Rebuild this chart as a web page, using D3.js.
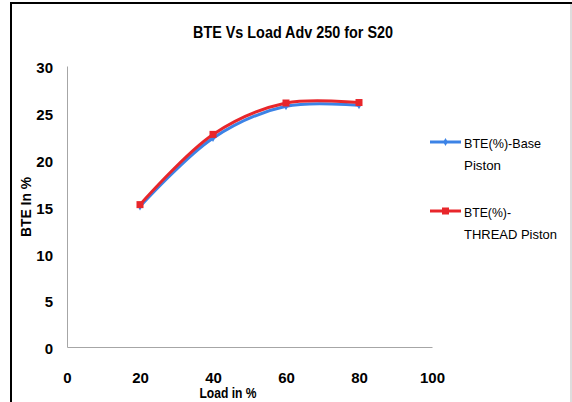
<!DOCTYPE html>
<html>
<head>
<meta charset="utf-8">
<script src="https://cdn.jsdelivr.net/npm/d3@7"></script>
<style>
  body { margin: 0; background: #fff; }
  text { font-family: "Liberation Sans", Arial, sans-serif; }
</style>
</head>
<body>
<div id="chart"></div>
<script>
// load values and BTE readings
var loads = [20, 40, 60, 80];
var baseBTE = [15.0, 22.3, 25.7, 25.8];
var threadBTE = [15.2, 22.7, 26.05, 26.1];
var xTicks = [0, 20, 40, 60, 80, 100];
var yTicks = [0, 5, 10, 15, 20, 25, 30];
var seriesNames = [["BTE(%)-Base", "Piston"], ["BTE(%)-", "THREAD Piston"]];

var width = 572, height = 402;

var svg = d3.select("#chart").append("svg")
	.attr("width", width)
	.attr("height", height);

// outer frame
svg.append("line").attr("x1", 11).attr("y1", 2).attr("x2", 11).attr("y2", height)
	.attr("stroke", "#000").attr("stroke-width", 2);
svg.append("line").attr("x1", 10).attr("y1", 3).attr("x2", 572).attr("y2", 3)
	.attr("stroke", "#000").attr("stroke-width", 2);
svg.append("line").attr("x1", 571).attr("y1", 4).attr("x2", 571).attr("y2", height)
	.attr("stroke", "#bbb").attr("stroke-width", 1);

var x = d3.scaleLinear().domain([0, 100]).range([67, 432]);
var y = d3.scaleLinear().domain([0, 30]).range([347, 66]);

// axes
var xAxis = svg.append("g")
	.attr("transform", "translate(0," + y(0) + ")")
	.call(d3.axisBottom(x).tickValues(xTicks).tickSize(0).tickPadding(25));
var yAxis = svg.append("g")
	.attr("transform", "translate(" + x(0) + ",0)")
	.call(d3.axisLeft(y).tickValues(yTicks).tickSize(0).tickPadding(14));

[xAxis, yAxis].forEach(function(a) {
	a.select(".domain").attr("stroke", "#a6a6a6").attr("stroke-width", 1);
	a.selectAll("text")
		.attr("font-family", "'Liberation Sans', sans-serif")
		.attr("font-size", 15)
		.attr("font-weight", "bold")
		.attr("fill", "#000");
});
yAxis.selectAll("text").attr("dy", "0.45em");

// title and axis labels
svg.append("text")
	.attr("x", 293).attr("y", 38)
	.attr("text-anchor", "middle")
	.attr("font-size", 16).attr("font-weight", "bold")
	.attr("textLength", 200).attr("lengthAdjust", "spacingAndGlyphs")
	.text("BTE Vs Load Adv 250 for S20");

svg.append("text")
	.attr("x", 228).attr("y", 398)
	.attr("text-anchor", "middle")
	.attr("font-size", 15).attr("font-weight", "bold")
	.attr("textLength", 57).attr("lengthAdjust", "spacingAndGlyphs")
	.text("Load in %");

svg.append("text")
	.attr("transform", "translate(31,207) rotate(-90)")
	.attr("text-anchor", "middle")
	.attr("font-size", 15).attr("font-weight", "bold")
	.attr("textLength", 60).attr("lengthAdjust", "spacingAndGlyphs")
	.text("BTE In %");

var line = d3.line()
	.x(function(d) { return x(d[0]); })
	.y(function(d) { return y(d[1]); })
	.curve(d3.curveCatmullRom.alpha(0.5));

var baseData = loads.map(function(l, i) { return [l, baseBTE[i]]; });
var threadData = loads.map(function(l, i) { return [l, threadBTE[i]]; });

var blue = "#3c83e6", red = "#e8262b";

svg.append("path").datum(baseData)
	.attr("d", line).attr("fill", "none")
	.attr("stroke", blue).attr("stroke-width", 3);

svg.selectAll(".bm").data(baseData).enter()
	.append("path")
	.attr("class", "bm")
	.attr("transform", function(d) { return "translate(" + x(d[0]) + "," + y(d[1]) + ")"; })
	.attr("d", d3.symbol().type(d3.symbolDiamond).size(18))
	.attr("fill", blue);

svg.append("path").datum(threadData)
	.attr("d", line).attr("fill", "none")
	.attr("stroke", red).attr("stroke-width", 3);

svg.selectAll(".tm").data(threadData).enter()
	.append("rect")
	.attr("class", "tm")
	.attr("x", function(d) { return x(d[0]) - 3.5; })
	.attr("y", function(d) { return y(d[1]) - 3.5; })
	.attr("width", 7).attr("height", 7)
	.attr("fill", red);

// legend
var legend = svg.selectAll(".leg").data(seriesNames).enter()
	.append("g")
	.attr("class", "leg")
	.attr("transform", function(d, i) { return "translate(430," + (142 + i * 69) + ")"; });

legend.append("line")
	.attr("x1", 0).attr("x2", 31).attr("y1", 0).attr("y2", 0)
	.attr("stroke", function(d, i) { return i ? red : blue; })
	.attr("stroke-width", 3);

legend.filter(function(d, i) { return i === 1; }).append("rect")
	.attr("x", 12).attr("y", -3.5).attr("width", 7).attr("height", 7).attr("fill", red);
legend.filter(function(d, i) { return i === 0; }).append("path")
	.attr("transform", "translate(15.5,0)")
	.attr("d", d3.symbol().type(d3.symbolDiamond).size(18))
	.attr("fill", blue);

legend.append("text")
	.attr("x", 34).attr("y", 6)
	.attr("font-size", 13.5)
	.attr("textLength", function(d, i) { return i ? 47 : 77; })
	.attr("lengthAdjust", "spacingAndGlyphs")
	.text(function(d) { return d[0]; });
legend.append("text")
	.attr("x", 34).attr("y", 28)
	.attr("font-size", 13.5)
	.attr("textLength", function(d, i) { return i ? 93 : 37; })
	.attr("lengthAdjust", "spacingAndGlyphs")
	.text(function(d) { return d[1]; });
</script>
</body>
</html>
